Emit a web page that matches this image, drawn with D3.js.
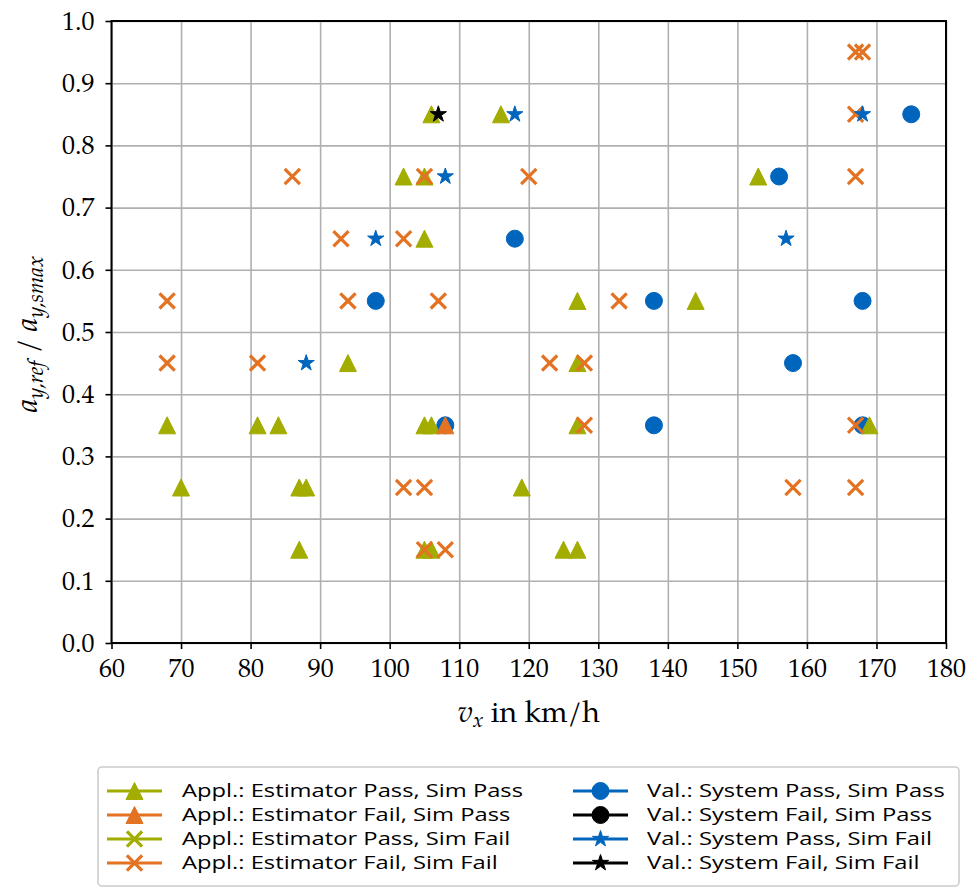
<!DOCTYPE html>
<html>
<head>
<meta charset="utf-8">
<script src="https://cdn.jsdelivr.net/npm/d3@7"></script>
<style>
  body { margin: 0; background: #fff; }
  svg { display: block; }
</style>
</head>
<body>
<div id="chart"></div>
<script>
// tick labels
const xTicks = [60, 70, 80, 90, 100, 110, 120, 130, 140, 150, 160, 170, 180];
const yTicks = [0.0, 0.1, 0.2, 0.3, 0.4, 0.5, 0.6, 0.7, 0.8, 0.9, 1.0];

// [v_x, a_y,ref / a_y,smax] per series
const applEstPassSimPass = [
  [106, 0.85], [116, 0.85],
  [102, 0.75], [105, 0.75], [153, 0.75],
  [105, 0.65],
  [127, 0.55], [144, 0.55],
  [94, 0.45], [127, 0.45],
  [68, 0.35], [81, 0.35], [84, 0.35], [105, 0.35], [106, 0.35], [127, 0.35], [169, 0.35],
  [70, 0.25], [87, 0.25], [88, 0.25], [119, 0.25],
  [87, 0.15], [105, 0.15], [106, 0.15], [125, 0.15], [127, 0.15]
];
const applEstFailSimPass = [[108, 0.35]];
const applEstPassSimFail = [];
const applEstFailSimFail = [
  [167, 0.95], [168, 0.95],
  [167, 0.85],
  [86, 0.75], [105, 0.75], [120, 0.75], [167, 0.75],
  [93, 0.65], [102, 0.65],
  [68, 0.55], [94, 0.55], [107, 0.55], [133, 0.55],
  [68, 0.45], [81, 0.45], [123, 0.45], [128, 0.45],
  [128, 0.35], [167, 0.35],
  [102, 0.25], [105, 0.25], [158, 0.25], [167, 0.25],
  [105, 0.15], [108, 0.15]
];
const valSysPassSimPass = [
  [175, 0.85], [156, 0.75], [118, 0.65],
  [98, 0.55], [138, 0.55], [168, 0.55],
  [158, 0.45],
  [108, 0.35], [138, 0.35], [168, 0.35]
];
const valSysFailSimPass = [];
const valSysPassSimFail = [
  [118, 0.85], [168, 0.85], [108, 0.75], [98, 0.65], [157, 0.65], [88, 0.45]
];
const valSysFailSimFail = [[107, 0.85]];

const green = "#A2AD00", orange = "#E37222", blue = "#0065BD", black = "#000000";

const legendItems = [
  { label: "Appl.: Estimator Pass, Sim Pass", data: applEstPassSimPass, color: green, marker: "tri", col: 0 },
  { label: "Appl.: Estimator Fail, Sim Pass", data: applEstFailSimPass, color: orange, marker: "tri", col: 0 },
  { label: "Appl.: Estimator Pass, Sim Fail", data: applEstPassSimFail, color: green, marker: "x", col: 0 },
  { label: "Appl.: Estimator Fail, Sim Fail", data: applEstFailSimFail, color: orange, marker: "x", col: 0 },
  { label: "Val.: System Pass, Sim Pass", data: valSysPassSimPass, color: blue, marker: "circle", col: 1 },
  { label: "Val.: System Fail, Sim Pass", data: valSysFailSimPass, color: black, marker: "circle", col: 1 },
  { label: "Val.: System Pass, Sim Fail", data: valSysPassSimFail, color: blue, marker: "star", col: 1 },
  { label: "Val.: System Fail, Sim Fail", data: valSysFailSimFail, color: black, marker: "star", col: 1 }
];
// drawing order (circles below, stars on top)
const drawOrder = [4, 5, 0, 1, 2, 3, 6, 7];

const width = 975, height = 888;
const marginLeft = 111.5, marginRight = 29, marginTop = 21, marginBottom = 245;
const serif = "'TeX Gyre Pagella', 'Palatino Linotype', 'Liberation Serif', serif";

const x = d3.scaleLinear().domain([60, 180]).range([marginLeft, width - marginRight]);
const y = d3.scaleLinear().domain([0, 1]).range([height - marginBottom, marginTop]);

const svg = d3.select("#chart").append("svg")
  .attr("width", width).attr("height", height)
  .attr("viewBox", [0, 0, width, height]);

const ms = 17;
function markerPath(type) {
  const h = ms / 2;
  if (type === "tri") return `M0,${-h}L${h},${h}L${-h},${h}Z`;
  if (type === "circle") return d3.symbol(d3.symbolCircle, Math.PI * h * h)();
  if (type === "x") { const k = 7.6; return `M${-k},${-k}L${k},${k}M${-k},${k}L${k},${-k}`; }
  // star
  const pts = [];
  for (let i = 0; i < 10; i++) {
    const r = i % 2 ? h * 0.381966 : h;
    const a = -Math.PI / 2 + i * Math.PI / 5;
    pts.push([r * Math.cos(a), r * Math.sin(a)]);
  }
  return "M" + pts.map(p => p.join(",")).join("L") + "Z";
}
function styleMarker(sel, d) {
  if (d.marker === "x") {
    sel.attr("fill", "none").attr("stroke", d.color).attr("stroke-width", 3.2);
  } else {
    sel.attr("fill", d.color).attr("stroke", d.color).attr("stroke-width", 1);
  }
}

// grid
svg.append("g")
  .attr("transform", `translate(0,${height - marginBottom})`)
  .call(d3.axisBottom(x).tickValues(xTicks).tickSize(-(height - marginBottom - marginTop)).tickFormat(""))
  .call(g => g.select(".domain").remove())
  .call(g => g.selectAll("line").attr("stroke", "#b0b0b0").attr("stroke-width", 1.6));
svg.append("g")
  .attr("transform", `translate(${marginLeft},0)`)
  .call(d3.axisLeft(y).tickValues(yTicks).tickSize(-(width - marginRight - marginLeft)).tickFormat(""))
  .call(g => g.select(".domain").remove())
  .call(g => g.selectAll("line").attr("stroke", "#b0b0b0").attr("stroke-width", 1.6));

// points
drawOrder.forEach(i => {
  const s = legendItems[i];
  svg.append("g").selectAll("path")
    .data(s.data)
    .join("path")
      .attr("transform", d => `translate(${x(d[0])},${y(d[1])})`)
      .attr("d", markerPath(s.marker))
      .call(sel => styleMarker(sel, s));
});

// axes
svg.append("g")
  .attr("transform", `translate(0,${height - marginBottom})`)
  .call(d3.axisBottom(x).tickValues(xTicks).tickSize(6).tickPadding(10).tickSizeOuter(0))
  .call(g => g.select(".domain").remove())
  .call(g => g.selectAll("line").attr("stroke", "#000").attr("stroke-width", 1.6))
  .call(g => g.selectAll("text").attr("font-family", serif).attr("font-size", 26).attr("fill", "#000"));
svg.append("g")
  .attr("transform", `translate(${marginLeft},0)`)
  .call(d3.axisLeft(y).tickValues(yTicks).tickFormat(d3.format(".1f")).tickSize(6).tickPadding(11).tickSizeOuter(0))
  .call(g => g.select(".domain").remove())
  .call(g => g.selectAll("line").attr("stroke", "#000").attr("stroke-width", 1.6))
  .call(g => g.selectAll("text").attr("font-family", serif).attr("font-size", 26).attr("fill", "#000"));

// frame
svg.append("rect")
  .attr("x", marginLeft).attr("y", marginTop)
  .attr("width", width - marginRight - marginLeft)
  .attr("height", height - marginBottom - marginTop)
  .attr("fill", "none").attr("stroke", "#000").attr("stroke-width", 2);

// x label
const xl = svg.append("text")
  .attr("x", (marginLeft + width - marginRight) / 2).attr("y", 722)
  .attr("text-anchor", "middle")
  .attr("font-family", serif).attr("font-size", 30);
xl.append("tspan").attr("font-style", "italic").text("v");
xl.append("tspan").attr("font-style", "italic").attr("font-size", 21).attr("dy", 5).text("x");
xl.append("tspan").attr("dy", -5).text(" in km/h");

// y label
const yl = svg.append("text")
  .attr("transform", `translate(37,${(marginTop + height - marginBottom) / 2 + 2}) rotate(-90)`)
  .attr("text-anchor", "middle")
  .attr("font-family", serif).attr("font-size", 30);
yl.append("tspan").attr("font-style", "italic").text("a");
yl.append("tspan").attr("font-style", "italic").attr("font-size", 22).attr("dy", 6).text("y,ref");
yl.append("tspan").attr("dy", -6).text(" / ");
yl.append("tspan").attr("font-style", "italic").text("a");
yl.append("tspan").attr("font-style", "italic").attr("font-size", 22).attr("dy", 6).text("y,smax");

// legend
const legend = svg.append("g");
legend.append("rect")
  .attr("x", 98).attr("y", 767).attr("width", 861).attr("height", 119)
  .attr("rx", 4).attr("fill", "#fff").attr("stroke", "#cccccc").attr("stroke-width", 1.6);
const colX = [{ h0: 107, h1: 162, t: 182 }, { h0: 573, h1: 628, t: 647 }];
const rowCount = [0, 0];
const legendFont = 17.5;
legendItems.forEach(s => {
  const c = colX[s.col];
  const cy = 791 + 24 * rowCount[s.col]++;
  const g = legend.append("g");
  g.append("line").attr("x1", c.h0).attr("x2", c.h1).attr("y1", cy).attr("y2", cy)
    .attr("stroke", s.color).attr("stroke-width", 3);
  g.append("path").attr("transform", `translate(${(c.h0 + c.h1) / 2},${cy})`)
    .attr("d", markerPath(s.marker)).call(sel => styleMarker(sel, s));
  g.append("text").attr("class", "lt").attr("x", c.t).attr("y", cy).attr("dy", "0.36em")
    .attr("font-family", "'Open Sans', Lato, sans-serif").attr("font-size", legendFont).text(s.label);
});
// stretch legend text to the reference width, keeping row height
const texts = legend.selectAll("text.lt").nodes();
const ratio = 341 / texts[0].getComputedTextLength();
texts.forEach(t => {
  d3.select(t).attr("textLength", t.getComputedTextLength() * ratio)
    .attr("lengthAdjust", "spacingAndGlyphs");
});
</script>
</body>
</html>
